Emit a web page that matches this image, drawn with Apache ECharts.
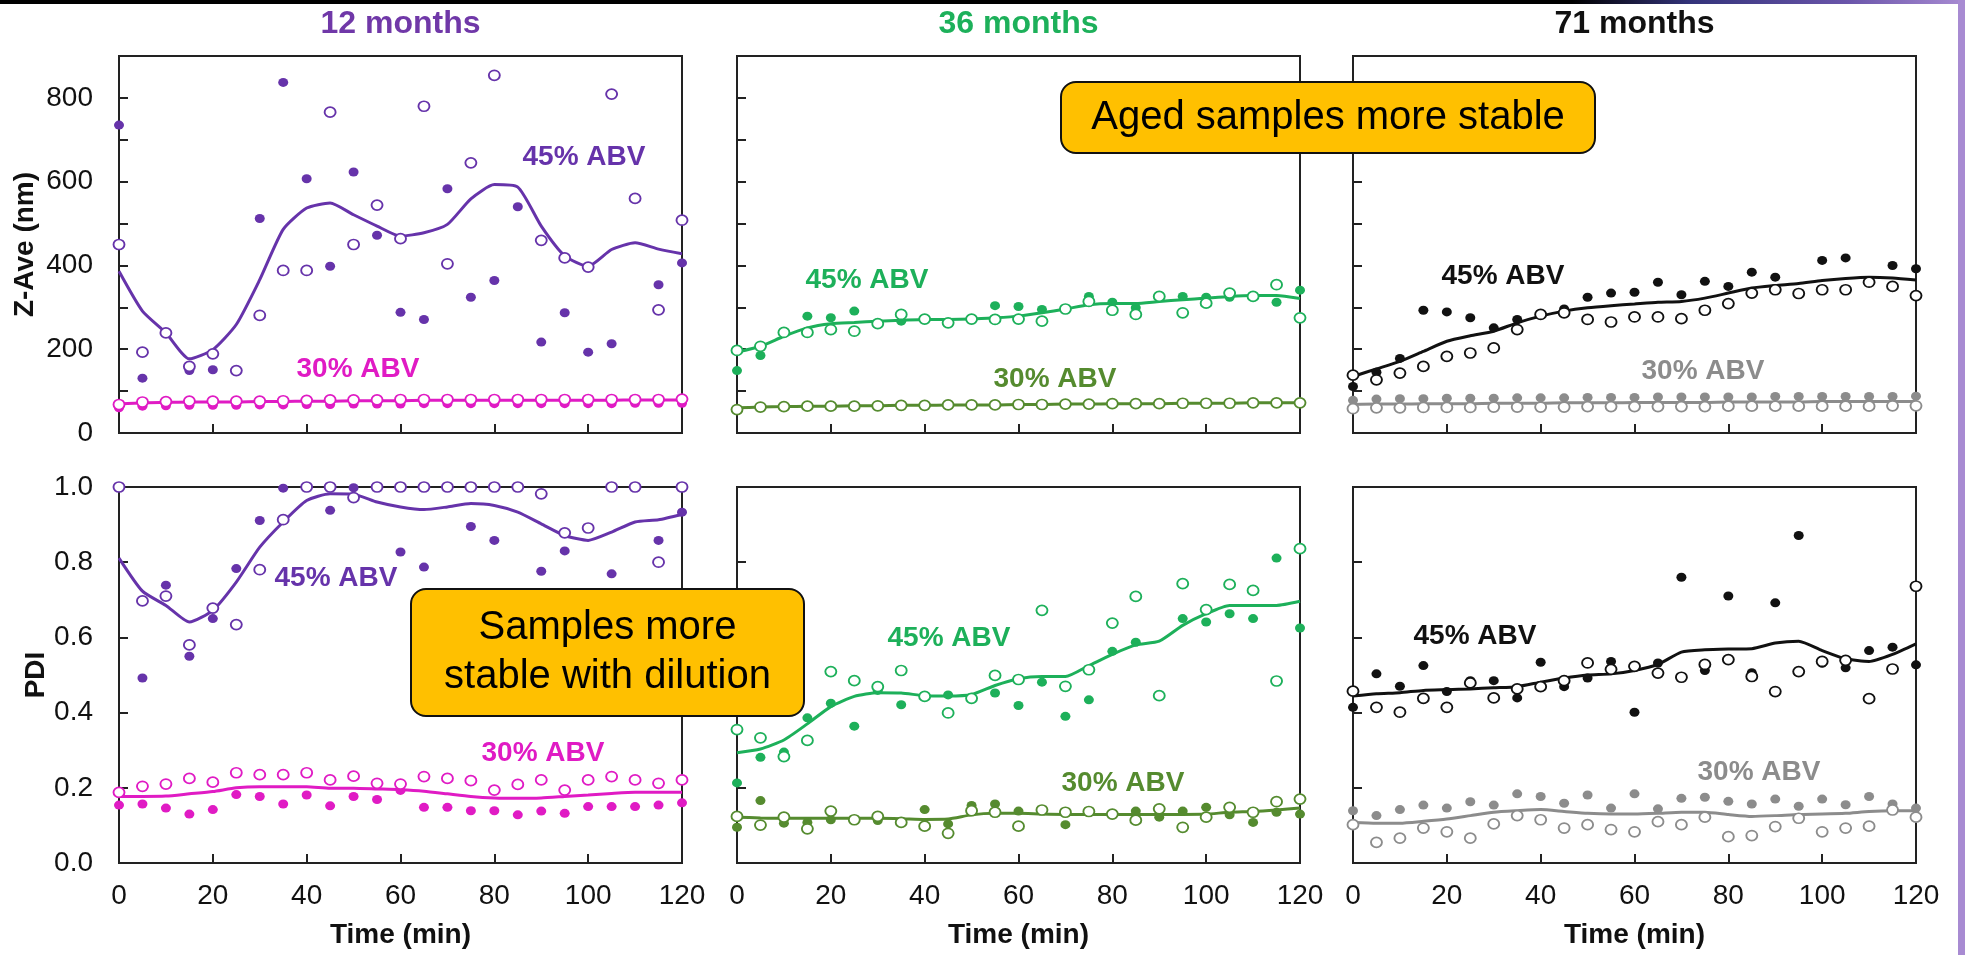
<!DOCTYPE html>
<html>
<head>
<meta charset="utf-8">
<title>Z-Ave and PDI over time</title>
<script src="https://cdn.jsdelivr.net/npm/echarts/dist/echarts.min.js"></script>
<style>
  html, body { margin: 0; padding: 0; background: #ffffff; }
  #chart { width: 1965px; height: 955px; }
</style>
</head>
<body>
<div id="chart"></div>
<script>
// Sampling times (min)
const times = [0, 5, 10, 15, 20, 25, 30, 35, 40, 45, 50, 55, 60, 65, 70, 75, 80, 85, 90, 95, 100, 105, 110, 115, 120];

// Tick values
const xTicks = [0, 20, 40, 60, 80, 100, 120];
const zTickLabels = [0, 200, 400, 600, 800];
const pdiTickLabels = [0.0, 0.2, 0.4, 0.6, 0.8, 1.0];

// Panel headings
const ageTitles = ['12 months', '36 months', '71 months'];
const metricNames = ['Z-Ave (nm)', 'PDI'];
const strengthLabels = ['45% ABV', '30% ABV'];

// ---- Z-Ave (nm), 12 months ----
const z12_45_filled = [735, 131, null, 149, 151, null, 512, 837, 607, 398, 623, 472, 288, 271, 583, 324, 364, 540, 217, 287, 193, 213, null, 354, 406];
const z12_45_open   = [450, 193, 239, 159, 189, 149, 281, 388, 388, 766, 450, 544, 464, 780, 404, 645, 854, null, 460, 418, 396, 809, 560, 294, 508];
const z12_45_line   = [386, 291, 239, 177, 199, 259, 366, 486, 537, 549, 521, 494, 470, 478, 498, 559, 593, 587, 494, 423, 398, 438, 454, 439, 428];
const z12_30_filled = [60, 64, 65, 66, 66, 66, 67, 67, 68, 68, 69, 69, 69, 70, 70, 70, 70, 70, 70, 70, 70, 70, 71, 71, 71];
const z12_30_open   = [68, 74, 75, 76, 76, 76, 76, 77, 78, 79, 79, 79, 80, 80, 80, 80, 80, 80, 80, 80, 80, 80, 80, 80, 81];
const z12_30_line   = [69, 72, 73, 74, 74, 74, 75, 75, 76, 76, 77, 77, 77, 78, 78, 78, 78, 78, 78, 78, 78, 78, 79, 79, 79];

// ---- Z-Ave (nm), 36 months ----
const z36_45_filled = [149, 185, null, 279, 275, 291, null, 267, null, null, null, 304, 302, 295, null, 326, 312, 299, null, 326, 324, 324, null, 312, 341];
const z36_45_open   = [197, 207, 240, 240, 247, 243, 261, 283, 272, 263, 272, 271, 272, 267, 296, 314, 293, 283, 326, 287, 310, 334, 326, 354, 275];
const z36_45_line   = [193, 207, 231, 251, 261, 264, 267, 269, 271, 271, 272, 275, 279, 287, 296, 306, 309, 309, 314, 318, 322, 326, 328, 328, 321];
const z36_30_filled = [54, 61, 62, 63, 63, 63, 64, 65, 65, 66, 66, 66, 67, 67, 68, 68, 69, 69, 69, 70, 70, 70, 71, 71, 71];
const z36_30_open   = [56, 62, 63, 64, 64, 64, 65, 66, 66, 67, 67, 67, 68, 68, 69, 69, 70, 70, 70, 71, 71, 71, 72, 72, 72];
const z36_30_line   = [60, 62, 63, 64, 64, 65, 65, 66, 66, 67, 67, 67, 68, 68, 69, 69, 70, 70, 70, 71, 71, 71, 72, 72, 72];

// ---- Z-Ave (nm), 71 months ----
const z71_45_filled = [111, 145, 178, 293, 289, 275, 251, 271, null, 296, 324, 334, 336, 360, 330, 362, 350, 384, 372, null, 412, 418, null, 400, 392];
const z71_45_open   = [138, 127, 143, 159, 183, 191, 203, 247, 283, 287, 271, 265, 277, 277, 273, 293, 309, 334, 342, 333, 342, 342, 360, 350, 328];
const z71_45_line   = [135, 153, 171, 195, 219, 232, 243, 263, 279, 291, 299, 304, 308, 312, 314, 322, 334, 346, 352, 357, 364, 369, 372, 370, 365];
const z71_30_filled = [78, 81, 82, 82, 83, 83, 83, 84, 84, 84, 85, 85, 85, 86, 86, 86, 86, 86, 87, 87, 87, 87, 87, 87, 88];
const z71_30_open   = [58, 60, 60, 61, 61, 61, 62, 62, 62, 62, 63, 63, 63, 63, 63, 63, 64, 64, 64, 64, 64, 64, 64, 65, 65];
const z71_30_line   = [68, 69, 69, 70, 70, 70, 71, 71, 71, 72, 72, 72, 73, 73, 73, 73, 74, 74, 74, 74, 75, 75, 75, 75, 75];

// ---- PDI, 12 months ----
const p12_45_filled = [1.0, 0.492, 0.739, 0.550, 0.650, 0.783, 0.911, 0.997, null, 0.938, 0.998, null, 0.827, 0.787, null, 0.895, 0.858, null, 0.776, 0.830, null, 0.769, null, 0.858, 0.933];
const p12_45_open   = [1.0, 0.697, 0.710, 0.580, 0.678, 0.634, 0.780, 0.913, 1.0, 1.0, 0.972, 1.0, 1.0, 1.0, 1.0, 1.0, 1.0, 1.0, 0.982, 0.878, 0.891, 1.0, 1.0, 0.800, 1.0];
const p12_45_line   = [0.811, 0.723, 0.685, 0.641, 0.672, 0.747, 0.840, 0.907, 0.964, 0.982, 0.981, 0.960, 0.947, 0.940, 0.947, 0.956, 0.951, 0.933, 0.902, 0.871, 0.858, 0.880, 0.907, 0.913, 0.927];
const p12_30_filled = [0.154, 0.157, 0.146, 0.130, 0.142, 0.182, 0.177, 0.157, 0.181, 0.152, 0.177, 0.169, 0.193, 0.148, 0.148, 0.139, 0.139, 0.128, 0.138, 0.132, 0.150, 0.150, 0.150, 0.154, 0.160];
const p12_30_open   = [0.188, 0.204, 0.210, 0.225, 0.215, 0.240, 0.235, 0.235, 0.240, 0.221, 0.231, 0.212, 0.210, 0.230, 0.225, 0.219, 0.194, 0.209, 0.221, 0.194, 0.221, 0.230, 0.221, 0.212, 0.221];
const p12_30_line   = [0.177, 0.177, 0.178, 0.184, 0.190, 0.200, 0.203, 0.203, 0.203, 0.199, 0.199, 0.197, 0.195, 0.191, 0.184, 0.177, 0.173, 0.172, 0.173, 0.177, 0.181, 0.185, 0.188, 0.188, 0.188];

// ---- PDI, 36 months ----
const p36_45_filled = [0.213, 0.281, 0.295, 0.386, 0.425, 0.364, 0.459, 0.421, null, 0.447, null, 0.452, 0.419, 0.481, 0.390, 0.434, 0.563, 0.587, 0.444, 0.650, 0.641, 0.663, 0.650, 0.811, 0.625];
const p36_45_open   = [0.355, 0.333, 0.283, 0.326, 0.509, 0.485, 0.469, 0.512, 0.443, 0.399, 0.438, 0.499, 0.488, 0.672, 0.470, 0.514, 0.638, 0.709, 0.445, 0.743, 0.674, 0.741, 0.725, 0.484, 0.836];
const p36_45_line   = [0.293, 0.303, 0.327, 0.370, 0.416, 0.443, 0.453, 0.452, 0.445, 0.444, 0.448, 0.472, 0.490, 0.496, 0.496, 0.525, 0.555, 0.580, 0.590, 0.632, 0.663, 0.685, 0.685, 0.685, 0.696];
const p36_30_filled = [0.095, 0.166, 0.106, 0.108, 0.115, null, 0.113, null, 0.142, 0.104, 0.153, 0.157, 0.138, null, 0.102, null, null, 0.138, 0.122, 0.138, 0.148, 0.128, 0.108, 0.135, 0.130];
const p36_30_open   = [0.124, 0.101, 0.122, 0.091, 0.138, 0.115, 0.124, 0.108, 0.098, 0.079, 0.139, 0.135, 0.098, 0.141, 0.135, 0.137, 0.130, 0.114, 0.144, 0.095, 0.122, 0.148, 0.135, 0.163, 0.170];
const p36_30_line   = [0.122, 0.120, 0.119, 0.119, 0.119, 0.119, 0.119, 0.118, 0.116, 0.117, 0.128, 0.132, 0.132, 0.130, 0.129, 0.129, 0.129, 0.129, 0.129, 0.129, 0.130, 0.135, 0.137, 0.141, 0.146];

// ---- PDI, 71 months ----
const p71_45_filled = [0.414, 0.503, 0.470, 0.525, 0.456, 0.485, 0.485, 0.439, 0.534, 0.469, 0.492, 0.536, 0.401, 0.532, 0.760, 0.512, 0.710, 0.506, 0.692, 0.871, 0.531, 0.519, 0.565, 0.574, 0.527];
const p71_45_open   = [0.457, 0.414, 0.401, 0.438, 0.414, 0.479, 0.439, 0.463, 0.469, 0.485, 0.532, 0.515, 0.523, 0.505, 0.494, 0.528, 0.541, 0.496, 0.456, 0.509, 0.536, 0.539, 0.437, 0.516, 0.736];
const p71_45_line   = [0.444, 0.450, 0.453, 0.459, 0.461, 0.463, 0.466, 0.469, 0.481, 0.492, 0.500, 0.503, 0.512, 0.528, 0.561, 0.567, 0.569, 0.570, 0.585, 0.590, 0.565, 0.543, 0.536, 0.555, 0.583];
const p71_30_filled = [0.139, 0.126, 0.142, 0.154, 0.146, 0.163, 0.154, 0.184, 0.177, 0.159, 0.181, 0.146, 0.184, 0.144, 0.172, 0.175, 0.164, 0.157, 0.170, 0.151, 0.170, 0.155, 0.177, 0.157, 0.146];
const p71_30_open   = [0.102, 0.055, 0.066, 0.093, 0.083, 0.066, 0.104, 0.126, 0.115, 0.093, 0.102, 0.089, 0.083, 0.110, 0.102, 0.122, 0.070, 0.073, 0.097, 0.119, 0.083, 0.093, 0.098, 0.141, 0.122];
const p71_30_line   = [0.108, 0.106, 0.106, 0.111, 0.117, 0.126, 0.135, 0.139, 0.142, 0.137, 0.132, 0.130, 0.130, 0.132, 0.135, 0.135, 0.129, 0.124, 0.126, 0.129, 0.130, 0.132, 0.137, 0.139, 0.139];

// ---- styling ----
const FONT = 'Liberation Sans, Arial, Helvetica, sans-serif';
const AXIS_COLOR = '#222222';
const palette = [
  { title: '#7038A8', c45: '#6633AA', c30: '#E01BC4' },   // 12 months
  { title: '#1DB05A', c45: '#1DB05A', c30: '#558B2F' },   // 36 months
  { title: '#111111', c45: '#111111', c30: '#8C8C8C' }    // 71 months
];

// panel geometry: 3 columns x 2 rows
const colLeft = [119, 737, 1353];
const colWidth = 563;
const rowTop = [56, 487];
const rowHeight = [377, 376];

// strength label anchors [x, y] per panel, 45% then 30%
const labelPos = [
  [[584, 157], [358, 369]],
  [[867, 280], [1055, 379]],
  [[1503, 276], [1703, 371]],
  [[336, 578], [543, 753]],
  [[949, 638], [1123, 783]],
  [[1475, 636], [1759, 772]]
];

const panelData = [
  [z12_45_filled, z12_45_open, z12_45_line, z12_30_filled, z12_30_open, z12_30_line],
  [z36_45_filled, z36_45_open, z36_45_line, z36_30_filled, z36_30_open, z36_30_line],
  [z71_45_filled, z71_45_open, z71_45_line, z71_30_filled, z71_30_open, z71_30_line],
  [p12_45_filled, p12_45_open, p12_45_line, p12_30_filled, p12_30_open, p12_30_line],
  [p36_45_filled, p36_45_open, p36_45_line, p36_30_filled, p36_30_open, p36_30_line],
  [p71_45_filled, p71_45_open, p71_45_line, p71_30_filled, p71_30_open, p71_30_line]
];

function pairs(arr) {
  const out = [];
  times.forEach((t, k) => { if (arr[k] !== null && arr[k] !== undefined) out.push([t, arr[k]]); });
  return out;
}

const grids = [], xAxes = [], yAxes = [], series = [], graphics = [];

for (let i = 0; i < 6; i++) {
  const row = Math.floor(i / 3), col = i % 3;
  const isZ = row === 0;
  grids.push({
    left: colLeft[col], top: rowTop[row], width: colWidth, height: rowHeight[row],
    show: true, borderColor: AXIS_COLOR, borderWidth: 2, backgroundColor: 'transparent'
  });

  xAxes.push({
    type: 'value', gridIndex: i, min: xTicks[0], max: xTicks[xTicks.length - 1],
    interval: xTicks[1] - xTicks[0],
    axisLine: { show: true, lineStyle: { color: AXIS_COLOR, width: 2 } },
    axisTick: { show: true, inside: true, length: 9, lineStyle: { color: AXIS_COLOR, width: 2 } },
    axisLabel: { show: !isZ, fontFamily: FONT, fontSize: 28, color: '#111', margin: 19 },
    splitLine: { show: false },
    name: isZ ? '' : 'Time (min)', nameLocation: 'middle', nameGap: 58,
    nameTextStyle: { fontFamily: FONT, fontWeight: 'bold', fontSize: 28, color: '#111' }
  });

  const yLabelsShown = isZ ? zTickLabels : pdiTickLabels;
  yAxes.push({
    type: 'value', gridIndex: i,
    min: 0, max: isZ ? 900 : 1.0, interval: isZ ? 100 : 0.2,
    axisLine: { show: true, lineStyle: { color: AXIS_COLOR, width: 2 } },
    axisTick: { show: true, inside: true, length: 9, lineStyle: { color: AXIS_COLOR, width: 2 } },
    axisLabel: {
      show: col === 0, fontFamily: FONT, fontSize: 28, color: '#111', margin: 26,
      formatter: v => {
        const hit = yLabelsShown.some(l => Math.abs(l - v) < 1e-6);
        if (!hit) return '';
        return isZ ? String(Math.round(v)) : v.toFixed(1);
      }
    },
    splitLine: { show: false },
    name: col === 0 ? metricNames[row] : '', nameLocation: 'middle',
    nameGap: isZ ? 80 : 67,
    nameTextStyle: { fontFamily: FONT, fontWeight: 'bold', fontSize: 28, color: '#111' }
  });

  const pal = palette[col];
  const d = panelData[i];
  const groups = [
    { filled: d[0], open: d[1], line: d[2], color: pal.c45 },
    { filled: d[3], open: d[4], line: d[5], color: pal.c30 }
  ];
  groups.forEach(g => {
    series.push({
      type: 'line', xAxisIndex: i, yAxisIndex: i, data: pairs(g.line),
      showSymbol: false, smooth: 0.2, clip: false, silent: true, z: 2,
      lineStyle: { color: g.color, width: 3 }
    });
  });
  groups.forEach(g => {
    series.push({
      type: 'scatter', xAxisIndex: i, yAxisIndex: i, data: pairs(g.filled),
      symbol: 'circle', symbolSize: [10, 9], clip: false, silent: true, z: 3,
      itemStyle: { color: g.color, opacity: 1 }
    });
  });
  groups.forEach(g => {
    series.push({
      type: 'scatter', xAxisIndex: i, yAxisIndex: i, data: pairs(g.open),
      symbol: 'circle', symbolSize: [11, 10], clip: false, silent: true, z: 4,
      itemStyle: { color: '#ffffff', borderColor: g.color, borderWidth: 1.8, opacity: 1 }
    });
  });

  // strength labels inside each panel
  [0, 1].forEach(s => {
    graphics.push({
      type: 'text', x: labelPos[i][s][0], y: labelPos[i][s][1], z: 10,
      style: {
        text: strengthLabels[s], font: 'bold 28px ' + FONT,
        fill: s === 0 ? pal.c45 : pal.c30,
        textAlign: 'center', textVerticalAlign: 'middle', align: 'center', verticalAlign: 'middle'
      }
    });
  });
}

// column headings
ageTitles.forEach((t, c) => {
  graphics.push({
    type: 'text', x: colLeft[c] + colWidth / 2, y: 24, z: 10,
    style: {
      text: t, font: 'bold 32px ' + FONT, fill: palette[c].title,
      textAlign: 'center', textVerticalAlign: 'middle', align: 'center', verticalAlign: 'middle'
    }
  });
});

// callout boxes
function callout(x, y, w, h, lines, lineGap) {
  graphics.push({
    type: 'rect', z: 20,
    shape: { x: x, y: y, width: w, height: h, r: 15 },
    style: { fill: '#FFC000', stroke: '#111111', lineWidth: 2 }
  });
  const cy = y + h / 2 - (lines.length - 1) * lineGap / 2;
  lines.forEach((txt, k) => {
    graphics.push({
      type: 'text', z: 21, x: x + w / 2, y: cy + k * lineGap,
      style: {
        text: txt, font: '40px ' + FONT, fill: '#000000',
        textAlign: 'center', textVerticalAlign: 'middle', align: 'center', verticalAlign: 'middle'
      }
    });
  });
}
callout(1061, 82, 534, 71, ['Aged samples more stable'], 0);
callout(411, 589, 393, 127, ['Samples more', 'stable with dilution'], 49);

// slide frame accents
graphics.push({
  type: 'rect', z: 30, shape: { x: 0, y: 0, width: 1965, height: 4 },
  style: {
    fill: {
      type: 'linear', x: 0, y: 0, x2: 1, y2: 0,
      colorStops: [
        { offset: 0, color: '#000000' }, { offset: 0.8, color: '#000000' },
        { offset: 0.86, color: '#33337A' }, { offset: 0.94, color: '#6A55AA' },
        { offset: 1, color: '#A88BD2' }
      ]
    }
  }
});
graphics.push({
  type: 'rect', z: 30, shape: { x: 1958, y: 0, width: 7, height: 955 },
  style: { fill: '#A88BD2' }
});

const chart = echarts.init(document.getElementById('chart'), null, { renderer: 'canvas' });
chart.setOption({
  animation: false,
  backgroundColor: '#ffffff',
  grid: grids,
  xAxis: xAxes,
  yAxis: yAxes,
  series: series,
  graphic: graphics
});
</script>
</body>
</html>
